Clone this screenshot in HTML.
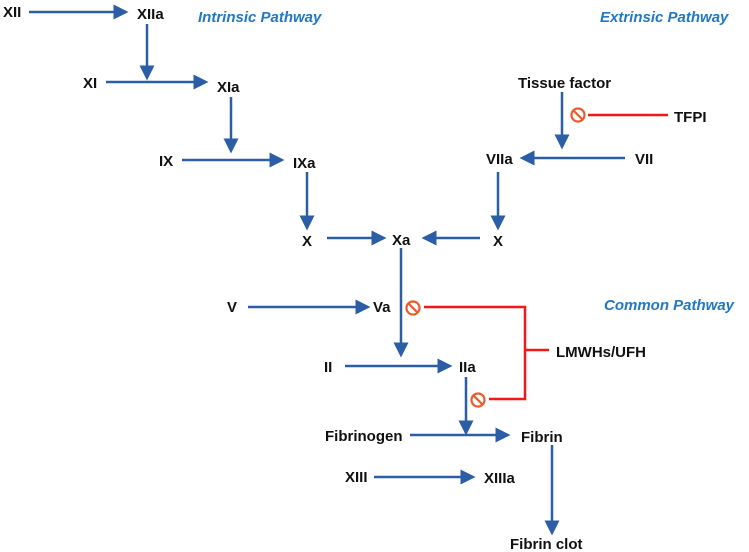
<!DOCTYPE html>
<html><head><meta charset="utf-8"><style>
html,body{margin:0;padding:0;background:#fff;}
svg{display:block;}
text{font-family:"Liberation Sans",Arial,sans-serif;font-weight:bold;font-size:15px;fill:#111;}
.t{fill:#1f78c8;font-style:italic;font-size:15px;}
.b{stroke:#2c5ea8;stroke-width:2.5;fill:none;}
.r{stroke:#f01818;stroke-width:2.5;fill:none;}
</style></head><body>
<svg width="749" height="552" viewBox="0 0 749 552" xmlns="http://www.w3.org/2000/svg">
<defs>
<marker id="a" markerWidth="6" markerHeight="6" refX="5" refY="3" orient="auto" markerUnits="strokeWidth">
<path d="M0,0 L6,3 L0,6 Z" fill="#2c5ea8"/></marker>
<g id="inh"><circle r="6.5" fill="none" stroke="#f05a28" stroke-width="2.2"/><line x1="-4.6" y1="-4.6" x2="4.6" y2="4.6" stroke="#f05a28" stroke-width="2.2"/></g>
</defs>
<text x="3" y="17">XII</text>
<line class="b" x1="29" y1="12" x2="126" y2="12" marker-end="url(#a)"/>
<text x="137" y="19">XIIa</text>
<text class="t" x="198" y="22">Intrinsic Pathway</text>
<text class="t" x="600" y="22">Extrinsic Pathway</text>
<line class="b" x1="147" y1="24" x2="147" y2="78" marker-end="url(#a)"/>
<text x="83" y="88">XI</text>
<line class="b" x1="106" y1="82" x2="206" y2="82" marker-end="url(#a)"/>
<text x="217" y="92">XIa</text>
<line class="b" x1="231" y1="97" x2="231" y2="151" marker-end="url(#a)"/>
<text x="159" y="166">IX</text>
<line class="b" x1="182" y1="160" x2="282" y2="160" marker-end="url(#a)"/>
<text x="293" y="168">IXa</text>
<line class="b" x1="307" y1="172" x2="307" y2="228" marker-end="url(#a)"/>
<text x="302" y="246">X</text>
<line class="b" x1="327" y1="238" x2="384" y2="238" marker-end="url(#a)"/>
<text x="392" y="245">Xa</text>
<line class="b" x1="480" y1="238" x2="424" y2="238" marker-end="url(#a)"/>
<text x="493" y="246">X</text>
<text x="518" y="88">Tissue factor</text>
<line class="b" x1="562" y1="92" x2="562" y2="147" marker-end="url(#a)"/>
<use href="#inh" x="578" y="115"/>
<line class="r" x1="588" y1="115" x2="668" y2="115"/>
<text x="674" y="122">TFPI</text>
<text x="486" y="164">VIIa</text>
<line class="b" x1="625" y1="158" x2="522" y2="158" marker-end="url(#a)"/>
<text x="635" y="164">VII</text>
<line class="b" x1="498" y1="172" x2="498" y2="228" marker-end="url(#a)"/>
<line class="b" x1="401" y1="248" x2="401" y2="355" marker-end="url(#a)"/>
<text x="227" y="312">V</text>
<line class="b" x1="248" y1="307" x2="368" y2="307" marker-end="url(#a)"/>
<text x="373" y="312">Va</text>
<use href="#inh" x="413" y="308"/>
<polyline class="r" points="424,307 525,307 525,399 489,399"/>
<line class="r" x1="525" y1="350" x2="549" y2="350"/>
<use href="#inh" x="478" y="400"/>
<text x="556" y="357">LMWHs/UFH</text>
<text class="t" x="604" y="310">Common Pathway</text>
<text x="324" y="372">II</text>
<line class="b" x1="345" y1="366" x2="450" y2="366" marker-end="url(#a)"/>
<text x="459" y="372">IIa</text>
<line class="b" x1="466" y1="377" x2="466" y2="433" marker-end="url(#a)"/>
<text x="325" y="441">Fibrinogen</text>
<line class="b" x1="410" y1="435" x2="508" y2="435" marker-end="url(#a)"/>
<text x="521" y="442">Fibrin</text>
<text x="345" y="482">XIII</text>
<line class="b" x1="374" y1="477" x2="473" y2="477" marker-end="url(#a)"/>
<text x="484" y="483">XIIIa</text>
<line class="b" x1="552" y1="445" x2="552" y2="533" marker-end="url(#a)"/>
<text x="510" y="549">Fibrin clot</text>
</svg>
</body></html>
